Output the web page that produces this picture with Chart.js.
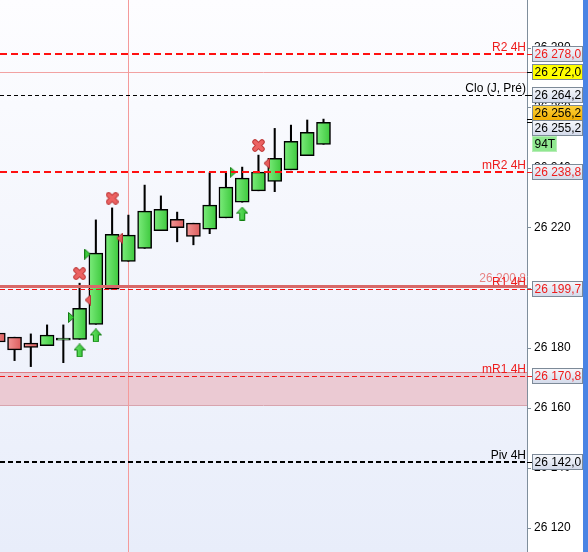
<!DOCTYPE html>
<html lang="fr">
<head>
<meta charset="UTF-8" />
<title>Bougies 4H - niveaux pivots</title>
<style>
  body { margin: 0; padding: 0; background: #ffffff; }
  .wrap { width: 583px; height: 552px; border-right: 5px solid #4a84e4; }
  canvas { display: block; }
</style>
</head>
<body>
<div class="wrap"><canvas id="chart" width="583" height="552"></canvas></div>
<script src="https://cdn.jsdelivr.net/npm/chart.js"></script>
<script>
// Bougies (une par créneau)
const slots  = [0, 1, 2, 3, 4, 5, 6, 7, 8, 9, 10, 11, 12, 13, 14, 15, 16, 17, 18, 19, 20];
const opens  = [26185.0, 26183.6, 26181.6, 26180.8, 26182.6, 26182.9, 26187.9, 26199.6, 26208.9, 26213.2, 26219.1,
                26222.9, 26221.6, 26219.6, 26223.4, 26228.6, 26232.4, 26235.5, 26239.4, 26244.1, 26247.9];
const highs  = [26185.5, 26183.6, 26184.7, 26187.7, 26187.7, 26201.6, 26222.7, 26226.7, 26224.3, 26234.3, 26230.7,
                26225.3, 26221.6, 26238.4, 26238.7, 26240.3, 26244.3, 26253.2, 26254.3, 26256.0, 26256.3];
const lows   = [26181.5, 26175.8, 26173.8, 26180.8, 26175.1, 26182.9, 26187.9, 26199.6, 26208.9, 26213.2, 26219.1,
                26215.4, 26214.4, 26218.1, 26223.4, 26228.6, 26232.4, 26232.1, 26239.4, 26244.1, 26247.9];
const closes = [26182.0, 26179.4, 26180.2, 26184.3, 26183.3, 26193.2, 26211.6, 26217.9, 26217.6, 26225.6, 26226.2,
                26220.1, 26217.2, 26227.6, 26233.6, 26236.6, 26238.6, 26243.2, 26248.9, 26251.9, 26255.2];

// Niveaux pivots
const levelNames  = ['R2 4H', 'Clo (J, Pré)', 'mR2 4H', 'R1 4H', 'mR1 4H', 'Piv 4H'];
const levelValues = [26278.0, 26264.2, 26238.8, 26199.7, 26170.8, 26142.0];

// Autres niveaux
const r1Line     = 26200.8;
const alertLine  = 26272.0;
const askPrice   = 26256.2;
const lastPrice  = 26255.2;
const tickLabel  = '94T';
const zone       = [26161.0, 26172.0];
const cursorSlot = 8;

// Signaux
const crossSlots  = [5, 7, 16];
const crossValues = [26204.8, 26229.9, 26247.5];
const arrowSlots  = [5, 6, 15];
const arrowValues = [26179.2, 26184.2, 26224.8];
const buySlots    = [4.5, 5.5, 14.45];
const buyValues   = [26190.2, 26211.3, 26238.6];
const sellSlots   = [5.49, 7.44, 16.49];
const sellValues  = [26196.0, 26216.6, 26241.6];

// Axe Y
const yMin = 26112, yMax = 26296, yStep = 20;

const FONT = '12px "Liberation Sans", Arial, sans-serif';
const RED = '#ee1c1c';

const levelStyle = {
  'R2 4H':        { color: '#ff1010', width: 2,   dash: [7, 4], text: RED },
  'Clo (J, Pré)': { color: '#000000', width: 1,   dash: [4, 3], text: '#000' },
  'mR2 4H':       { color: '#ff1010', width: 2,   dash: [7, 4], text: RED },
  'R1 4H':        { color: '#f01818', width: 1.2, dash: [5, 3], text: RED },
  'mR1 4H':       { color: '#f01818', width: 1.2, dash: [5, 3], text: RED },
  'Piv 4H':       { color: '#000000', width: 2,   dash: [5, 3], text: '#000' }
};

function fmt(v, dec) {
  const s = dec ? v.toFixed(dec) : String(Math.round(v));
  const parts = s.split('.');
  parts[0] = parts[0].replace(/\B(?=(\d{3})+(?!\d))/g, ' ');
  return parts.join(',');
}

// petites icônes pour les signaux
function makeIcon(w, h, draw) {
  const c = document.createElement('canvas');
  c.width = w; c.height = h;
  draw(c.getContext('2d'));
  return c;
}
const crossIcon = makeIcon(13, 13, g => {
  g.lineCap = 'round';
  g.beginPath();
  g.moveTo(3, 3); g.lineTo(10, 10);
  g.moveTo(10, 3); g.lineTo(3, 10);
  g.strokeStyle = '#c03c3c'; g.lineWidth = 5.5; g.stroke();
  g.strokeStyle = '#ec6262'; g.lineWidth = 3.5; g.stroke();
});
const arrowIcon = makeIcon(12, 14, g => {
  g.beginPath();
  g.moveTo(6, 0.5); g.lineTo(11.5, 6.5); g.lineTo(8.5, 6.5); g.lineTo(8.5, 13.5);
  g.lineTo(3.5, 13.5); g.lineTo(3.5, 6.5); g.lineTo(0.5, 6.5); g.closePath();
  const gr = g.createLinearGradient(0, 0, 12, 0);
  gr.addColorStop(0, '#6fe86f'); gr.addColorStop(1, '#2cbc2c');
  g.fillStyle = gr; g.fill();
  g.strokeStyle = '#0f7f0f'; g.lineWidth = 1; g.stroke();
});
const buyIcon = makeIcon(7, 11, g => {
  g.beginPath();
  g.moveTo(0.5, 0.5); g.lineTo(6, 5.5); g.lineTo(0.5, 10.5); g.closePath();
  g.fillStyle = '#3ccc3c'; g.fill();
  g.strokeStyle = '#167a16'; g.lineWidth = 1; g.stroke();
});
const sellIcon = makeIcon(7, 11, g => {
  g.beginPath();
  g.moveTo(6.5, 0.5); g.lineTo(1, 5.5); g.lineTo(6.5, 10.5); g.closePath();
  g.fillStyle = '#e85c5c'; g.fill();
  g.strokeStyle = '#b03232'; g.lineWidth = 1; g.stroke();
});

function pts(xs, ys) { return xs.map((x, i) => ({ x: x, y: ys[i] })); }

function bodyColor(c) {
  const i = c.dataIndex;
  if (i === undefined) return '#5ede5e';
  const up = closes[i] >= opens[i];
  const xs = c.chart.scales && c.chart.scales.x;
  const px = xs ? xs.getPixelForValue(slots[i]) : NaN;
  if (!isFinite(px)) return up ? '#5ede5e' : '#e57070';
  const g = c.chart.ctx.createLinearGradient(px - 7, 0, px + 7, 0);
  if (up) { g.addColorStop(0, '#7cec7c'); g.addColorStop(1, '#3cc83c'); }
  else    { g.addColorStop(0, '#f29696'); g.addColorStop(1, '#dc5c5c'); }
  return g;
}

function dashed(ctx, a, py, st) {
  ctx.beginPath();
  ctx.setLineDash(st.dash || []);
  ctx.strokeStyle = st.color;
  ctx.lineWidth = st.width;
  const yy = st.width % 2 ? Math.round(py) + 0.5 : Math.round(py);
  ctx.moveTo(a.left, yy);
  ctx.lineTo(a.right, yy);
  ctx.stroke();
  ctx.setLineDash([]);
}

const levelsPlugin = {
  id: 'levels',
  beforeDraw(chart) {
    const { ctx, chartArea: a } = chart;
    ctx.save();
    const g = ctx.createLinearGradient(0, a.top, 0, a.bottom);
    g.addColorStop(0, '#fdfdff');
    g.addColorStop(1, '#e8edfa');
    ctx.fillStyle = g;
    ctx.fillRect(a.left, a.top, a.width, a.height);
    ctx.restore();
  },
  beforeDatasetsDraw(chart) {
    const { ctx, chartArea: a, scales: { x, y } } = chart;
    ctx.save();
    // zone rose
    const zt = Math.round(y.getPixelForValue(zone[1])), zb = Math.round(y.getPixelForValue(zone[0]));
    ctx.fillStyle = '#ebcad3';
    ctx.fillRect(a.left, zt, a.width, zb - zt);
    ctx.strokeStyle = '#e07c84'; ctx.lineWidth = 1;
    ctx.beginPath(); ctx.moveTo(a.left, zt + 0.5); ctx.lineTo(a.right, zt + 0.5); ctx.stroke();
    ctx.strokeStyle = '#d8a4ae';
    ctx.beginPath(); ctx.moveTo(a.left, zb + 0.5); ctx.lineTo(a.right, zb + 0.5); ctx.stroke();
    // ligne d'alerte
    dashed(ctx, a, y.getPixelForValue(alertLine), { color: '#f2a2a2', width: 1 });
    // curseur vertical
    const cx = Math.round(x.getPixelForValue(cursorSlot)) + 0.5;
    ctx.strokeStyle = '#f49a9a'; ctx.lineWidth = 1;
    ctx.beginPath(); ctx.moveTo(cx, a.top); ctx.lineTo(cx, a.bottom); ctx.stroke();
    ctx.restore();
  },
  afterDatasetsDraw(chart) {
    const { ctx, chartArea: a, scales: { y } } = chart;
    ctx.save();
    levelNames.forEach((n, i) => dashed(ctx, a, y.getPixelForValue(levelValues[i]), levelStyle[n]));
    ctx.font = FONT;
    ctx.textAlign = 'right';
    ctx.textBaseline = 'alphabetic';
    const pr = y.getPixelForValue(r1Line);
    ctx.fillStyle = '#e88282';
    ctx.fillText(fmt(r1Line, 1), a.right - 1, pr - 3.5);
    levelNames.forEach((n, i) => {
      ctx.fillStyle = levelStyle[n].text;
      ctx.fillText(n, a.right - 1, y.getPixelForValue(levelValues[i]) - 3);
    });
    dashed(ctx, a, pr, { color: '#d86868', width: 3 });
    ctx.restore();
  },
  afterDraw(chart) {
    const { ctx, chartArea: a, scales: { y } } = chart;
    const H = 15, x0 = a.right + 5.5, W = 50;
    const grey = (top) => {
      const g = ctx.createLinearGradient(0, top, 0, top + H);
      g.addColorStop(0, '#f6f8fc'); g.addColorStop(1, '#d3daea');
      return g;
    };
    const orange = (top) => {
      const g = ctx.createLinearGradient(0, top, 0, top + H);
      g.addColorStop(0, '#ffd23c'); g.addColorStop(1, '#f0ae00');
      return g;
    };
    const items = levelNames.map((n, i) => ({ v: levelValues[i], text: levelStyle[n].text, fill: grey }));
    items.push({ v: alertLine, text: '#000', fill: () => '#ffff00' });
    items.push({ v: askPrice, text: '#000', fill: orange });
    items.push({ v: lastPrice, text: '#000', fill: grey, last: true });
    items.forEach(it => { it.cy = y.getPixelForValue(it.v); });
    items.sort((p, q) => p.cy - q.cy);
    // empilement des étiquettes qui se chevauchent
    const groups = [];
    items.forEach(it => {
      const g = groups[groups.length - 1];
      if (g && it.cy - g[g.length - 1].cy < H) g.push(it); else groups.push([it]);
    });
    groups.forEach(g => {
      const mean = g.reduce((s, it) => s + it.cy, 0) / g.length - 0.6;
      const start = mean - g.length * H / 2;
      g.forEach((it, k) => { it.top = Math.round(start + k * H) + 0.5; });
    });
    ctx.save();
    ctx.font = FONT;
    ctx.textAlign = 'left';
    ctx.textBaseline = 'middle';
    items.forEach(it => {
      ctx.strokeStyle = it.text; ctx.lineWidth = 1;
      ctx.beginPath();
      ctx.moveTo(a.right, Math.round(it.cy) + 0.5);
      ctx.lineTo(x0, Math.round(it.cy) + 0.5);
      ctx.stroke();
      ctx.fillStyle = it.fill(it.top);
      ctx.fillRect(x0, it.top, W, H);
      ctx.strokeStyle = '#7d8a98';
      ctx.strokeRect(x0, it.top, W, H);
      ctx.fillStyle = it.text;
      ctx.fillText(fmt(it.v, 1), x0 + 2, it.top + H / 2 + 0.5);
      if (it.last) {
        const t = it.top + H + 1;
        ctx.fillStyle = '#90e890';
        ctx.fillRect(x0, t, 24, H);
        ctx.strokeStyle = '#b6ecb6';
        ctx.strokeRect(x0, t, 24, H);
        ctx.fillStyle = '#000';
        ctx.fillText(tickLabel, x0 + 2, t + H / 2 + 0.5);
      }
    });
    ctx.restore();
  }
};

new Chart(document.getElementById('chart'), {
  type: 'bar',
  data: {
    datasets: [
      {
        label: 'mèches',
        data: slots.map((s, i) => ({ x: s, y: [lows[i], highs[i]] })),
        backgroundColor: '#000000',
        barThickness: 1.4,
        borderWidth: 0,
        grouped: false,
        order: 3
      },
      {
        label: 'corps',
        data: slots.map((s, i) => ({ x: s, y: [opens[i], closes[i]] })),
        backgroundColor: bodyColor,
        borderColor: '#000000',
        borderWidth: 1.5,
        borderSkipped: false,
        barThickness: 14,
        grouped: false,
        order: 2
      },
      { type: 'scatter', label: 'croix', data: pts(crossSlots, crossValues), pointStyle: crossIcon, order: 1 },
      { type: 'scatter', label: 'flèches', data: pts(arrowSlots, arrowValues), pointStyle: arrowIcon, order: 1 },
      { type: 'scatter', label: 'achat', data: pts(buySlots, buyValues), pointStyle: buyIcon, order: 1 },
      { type: 'scatter', label: 'vente', data: pts(sellSlots, sellValues), pointStyle: sellIcon, order: 1 }
    ]
  },
  options: {
    responsive: false,
    animation: false,
    devicePixelRatio: 1,
    events: [],
    layout: { padding: 0, autoPadding: false },
    plugins: { legend: { display: false }, tooltip: { enabled: false } },
    scales: {
      x: {
        type: 'linear',
        min: 0.105,
        max: 32.515,
        offset: false,
        display: false
      },
      y: {
        position: 'right',
        min: yMin,
        max: yMax,
        border: { display: true, color: '#7f8e9c', width: 1 },
        grid: { drawOnChartArea: false, drawTicks: true, tickLength: 4, color: '#7f8e9c' },
        ticks: {
          stepSize: yStep,
          includeBounds: false,
          autoSkip: false,
          padding: 3,
          color: '#000000',
          font: { family: '"Liberation Sans", Arial, sans-serif', size: 12 },
          callback: v => fmt(v)
        },
        afterFit: s => { s.width = 56; s.paddingTop = 0; s.paddingBottom = 0; }
      }
    }
  },
  plugins: [levelsPlugin]
});
</script>
</body>
</html>
